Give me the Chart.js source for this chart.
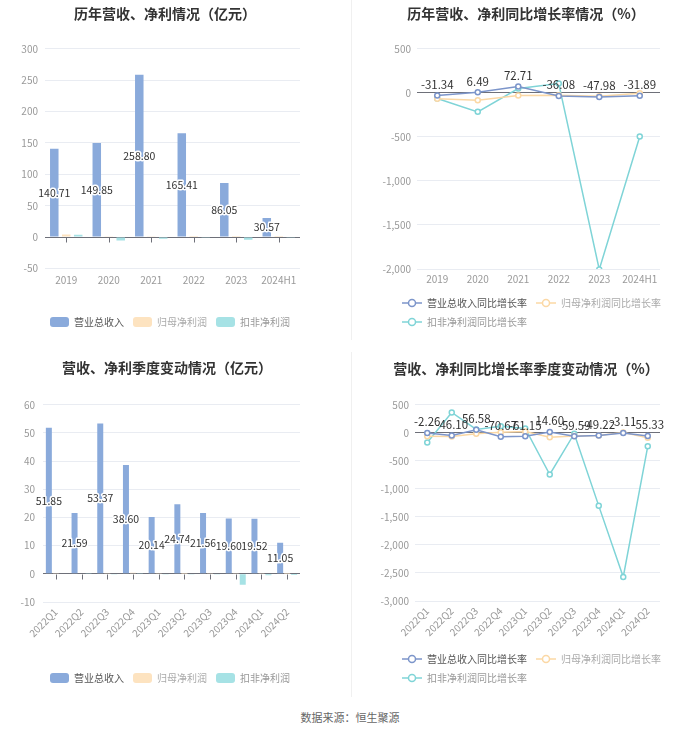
<!DOCTYPE html>
<html>
<head>
<meta charset="utf-8">
<script src="https://cdn.jsdelivr.net/npm/chart.js@4.4.1/dist/chart.umd.min.js"></script>
<style>
  html, body { margin: 0; padding: 0; background: #fff; }
  body { width: 700px; height: 734px; position: relative; overflow: hidden; }
  .panel { position: absolute; width: 350px; }
  .panel canvas { display: block; }
  #p1 { left: 0; top: 0; height: 345px; }
  #p2 { left: 350px; top: 0; height: 345px; }
  #p3 { left: 0; top: 350px; height: 350px; }
  #p4 { left: 350px; top: 350px; height: 350px; }
  .sep { position: absolute; left: 351px; width: 1px; background: #f0f0f0; }
  #source { position: absolute; left: 0; width: 700px; top: 709px; text-align: center;
            font: 11px "Noto Sans CJK SC", sans-serif; color: #666; }
</style>
</head>
<body>
<div class="panel" id="p1"><canvas id="c1" width="350" height="345"></canvas></div>
<div class="panel" id="p2"><canvas id="c2" width="350" height="345"></canvas></div>
<div class="panel" id="p3"><canvas id="c3" width="350" height="350"></canvas></div>
<div class="panel" id="p4"><canvas id="c4" width="350" height="350"></canvas></div>
<div class="sep" style="top:0;height:340px"></div>
<div class="sep" style="top:352px;height:345px"></div>
<div id="source">数据来源：恒生聚源</div>
<script>
// annual figures (亿元)
const years = ['2019', '2020', '2021', '2022', '2023', '2024H1'];
const yearRevenue = [140.71, 149.85, 258.80, 165.41, 86.05, 30.57];
const yearNetProfit = [4.2, 0.7, 0.5, 0.37, 0.23, 0.2];
const yearDeducted = [3.6, -5.5, -2.8, -0.3, -4.0, -1.2];

// annual growth (%)
const yearRevenueGrowth = [-31.34, 6.49, 72.71, -36.08, -47.98, -31.89];
const yearNetProfitGrowth = [-68, -84, -31, -27, -38, -5];
const yearDeductedGrowth = [-65, -216, 49, 105, -2005, -495];

// quarterly figures (亿元)
const quarters = ['2022Q1', '2022Q2', '2022Q3', '2022Q4', '2023Q1', '2023Q2', '2023Q3', '2023Q4', '2024Q1', '2024Q2'];
const quarterRevenue = [51.85, 21.59, 53.37, 38.60, 20.14, 24.74, 21.56, 19.60, 19.52, 11.05];
const quarterNetProfit = [0.3, 0.2, 0.25, 0.35, 0.3, 0.05, 0.1, 0.15, 0.3, 0.02];
const quarterDeducted = [-0.15, 0.1, -0.1, 0.3, -0.05, -0.2, -0.1, -3.9, -0.5, -0.4];

// quarterly growth (%)
const quarterRevenueGrowth = [-2.26, -46.10, 56.58, -70.67, -61.15, 14.60, -59.59, -49.22, -3.11, -55.33];
const quarterNetProfitGrowth = [-60, -65, -15, 10, 25, -78, -55, -48, 5, -90];
const quarterDeductedGrowth = [-171, 364, 60, 118, 77, -743, -15, -1303, -2571, -240];

const seriesNames = ['营业总收入', '归母净利润', '扣非净利润'];
const growthNames = ['营业总收入同比增长率', '归母净利润同比增长率', '扣非净利润同比增长率'];
const barColors = ['#8aaadb', '#fde3c0', '#a6e2e5'];
const lineColors = ['#7c95ca', '#fbd8a5', '#7fd4d7'];
const legendTextColors = ['#555', '#aaa', '#999'];

const FONT = '"Noto Sans CJK SC", "Noto Sans", sans-serif';
Chart.defaults.font.family = FONT;
Chart.defaults.animation = false;

// value labels on the first dataset (revenue)
const valueLabels = {
  id: 'valueLabels',
  afterDatasetsDraw(chart, args, opts) {
    const meta = chart.getDatasetMeta(0);
    const values = chart.data.datasets[0].data;
    const ctx = chart.ctx;
    ctx.save();
    ctx.font = opts.size + 'px ' + FONT;
    ctx.textAlign = 'center';
    ctx.textBaseline = 'middle';
    ctx.lineJoin = 'round';
    ctx.lineWidth = 3;
    ctx.strokeStyle = '#fff';
    ctx.fillStyle = '#333';
    meta.data.forEach(function(el, i) {
      const text = values[i].toFixed(2);
      let y;
      if (opts.mode === 'bar') y = (el.y + el.base) / 2;
      else y = el.y - opts.offset;
      if (opts.halo) ctx.strokeText(text, el.x, y);
      ctx.fillText(text, el.x, y);
    });
    ctx.restore();
  }
};

// small tick marks hanging from the zero line (bar charts)
const zeroTicks = {
  id: 'zeroTicks',
  afterDatasetsDraw(chart) {
    const xs = chart.scales.x;
    const y0 = Math.round(chart.scales.y.getPixelForValue(0)) + 0.5;
    const ctx = chart.ctx;
    ctx.save();
    ctx.strokeStyle = '#6e7079';
    ctx.lineWidth = 1;
    ctx.beginPath();
    xs.ticks.forEach(function(t, i) {
      const px = Math.round(xs.getPixelForTick(i)) + 0.5;
      ctx.moveTo(px, y0);
      ctx.lineTo(px, y0 + 5);
    });
    ctx.stroke();
    ctx.restore();
  }
};

// places title and legend independently of the plot's right padding
const boxShift = {
  id: 'boxShift',
  beforeDraw(chart, args, opts) {
    const w = chart.width;
    if (opts.titleCenter != null && chart.titleBlock) {
      chart.titleBlock.left = opts.titleCenter - w / 2;
      chart.titleBlock.right = opts.titleCenter + w / 2;
    }
    if (opts.legendLeft != null && chart.legend) {
      chart.legend.left = opts.legendLeft;
      chart.legend.right = opts.legendRight;
    }
  }
};

function lineIcon(color) {
  const c = document.createElement('canvas');
  c.width = 20; c.height = 10;
  const g = c.getContext('2d');
  g.strokeStyle = color;
  g.lineWidth = 1.5;
  g.beginPath(); g.moveTo(0, 5); g.lineTo(20, 5); g.stroke();
  g.fillStyle = '#fff';
  g.beginPath(); g.arc(10, 5, 3.5, 0, Math.PI * 2); g.fill(); g.stroke();
  return c;
}

function yGrid(ctx) {
  return ctx.tick && ctx.tick.value === 0 ? '#6e7079' : '#e9ecf2';
}

function commonScales(o) {
  return {
    x: {
      offset: true,
      grid: { display: false, drawTicks: false },
      border: { display: false },
      ticks: {
        color: '#999', font: { size: 10 }, padding: o.xPad,
        autoSkip: false, maxRotation: o.rot, minRotation: o.rot
      },
      afterFit: function(s) { s.height = o.xHeight; }
    },
    y: {
      min: o.min, max: o.max,
      grid: { color: yGrid, drawTicks: false },
      border: { display: false },
      ticks: { stepSize: o.step, color: '#999', font: { size: 10 }, padding: o.yPad },
      afterFit: function(s) { s.width = o.left; }
    }
  };
}

function titleOpts(text, top, bottom) {
  return {
    display: true, text: text, color: '#333',
    font: { size: 14, weight: 'bold' },
    padding: { top: top, bottom: bottom }
  };
}

function barChart(id, labels, series, o) {
  return new Chart(document.getElementById(id), {
    type: 'bar',
    data: {
      labels: labels,
      datasets: series.map(function(data, i) {
        return {
          label: seriesNames[i], data: data,
          backgroundColor: barColors[i], borderWidth: 0,
          categoryPercentage: o.catPct, barPercentage: o.barPct
        };
      })
    },
    options: {
      responsive: false,
      layout: { padding: { left: 0, right: o.right, top: 0, bottom: o.bottom } },
      scales: commonScales(o),
      plugins: {
        title: titleOpts(o.title, o.tTop, o.tBottom),
        legend: {
          position: 'bottom',
          labels: {
            boxWidth: 19, boxHeight: 10, padding: 9,
            useBorderRadius: true, borderRadius: 3,
            font: { size: 10 },
            generateLabels: function(chart) {
              return Chart.defaults.plugins.legend.labels.generateLabels(chart).map(function(it, i) {
                it.fontColor = legendTextColors[i];
                it.lineWidth = 0;
                return it;
              });
            }
          }
        },
        boxShift: { titleCenter: o.titleCenter, legendLeft: 20, legendRight: 320 },
        tooltip: { enabled: false },
        valueLabels: { mode: 'bar', size: 10.5, halo: true }
      }
    },
    plugins: [boxShift, valueLabels, zeroTicks]
  });
}

function lineChart(id, labels, series, o) {
  return new Chart(document.getElementById(id), {
    type: 'line',
    data: {
      labels: labels,
      datasets: series.map(function(data, i) {
        return {
          label: growthNames[i], data: data,
          borderColor: lineColors[i], backgroundColor: lineColors[i],
          borderWidth: 1.5, tension: 0,
          pointRadius: 2.5, pointBorderWidth: 1.5,
          pointBackgroundColor: '#fff', pointBorderColor: lineColors[i]
        };
      })
    },
    options: {
      responsive: false,
      layout: { padding: { left: 0, right: o.right, top: 0, bottom: o.bottom } },
      scales: commonScales(o),
      plugins: {
        title: titleOpts(o.title, o.tTop, o.tBottom),
        legend: {
          position: 'bottom',
          align: 'start',
          labels: {
            usePointStyle: true, pointStyleWidth: 20, boxHeight: 10, padding: 9,
            font: { size: 10 },
            generateLabels: function(chart) {
              return Chart.defaults.plugins.legend.labels.generateLabels(chart).map(function(it, i) {
                it.pointStyle = lineIcon(lineColors[i]);
                it.fontColor = legendTextColors[i];
                return it;
              });
            }
          }
        },
        boxShift: { titleCenter: o.titleCenter, legendLeft: 43, legendRight: 350 },
        tooltip: { enabled: false },
        valueLabels: { mode: 'line', size: 11.5, offset: 11, halo: false }
      }
    },
    plugins: [boxShift, valueLabels]
  });
}

barChart('c1', years, [yearRevenue, yearNetProfit, yearDeducted], {
  title: '历年营收、净利情况（亿元）', titleCenter: 165, tTop: 5, tBottom: 27,
  min: -50, max: 300, step: 50, left: 45, right: 50, bottom: 8,
  yPad: 7, xPad: 6, xHeight: 39.5, rot: 0,
  catPct: 0.845, barPct: 0.71
});

lineChart('c2', years, [yearRevenueGrowth, yearNetProfitGrowth, yearDeductedGrowth], {
  title: '历年营收、净利同比增长率情况（%）', titleCenter: 176, tTop: 5, tBottom: 27,
  min: -2000, max: 500, step: 500, left: 67, right: 40, bottom: 8,
  yPad: 6, xPad: 4, xHeight: 20, rot: 0
});

barChart('c3', quarters, [quarterRevenue, quarterNetProfit, quarterDeducted], {
  title: '营收、净利季度变动情况（亿元）', titleCenter: 167, tTop: 9, tBottom: 29,
  min: -10, max: 60, step: 10, left: 43, right: 50, bottom: 7,
  yPad: 8, xPad: 4, xHeight: 62, rot: 45,
  catPct: 0.817, barPct: 0.857
});

lineChart('c4', quarters, [quarterRevenueGrowth, quarterNetProfitGrowth, quarterDeductedGrowth], {
  title: '营收、净利同比增长率季度变动情况（%）', titleCenter: 176, tTop: 10, tBottom: 28,
  min: -3000, max: 500, step: 500, left: 65, right: 40, bottom: 7,
  yPad: 6, xPad: 4, xHeight: 44, rot: 45
});
</script>
</body>
</html>
